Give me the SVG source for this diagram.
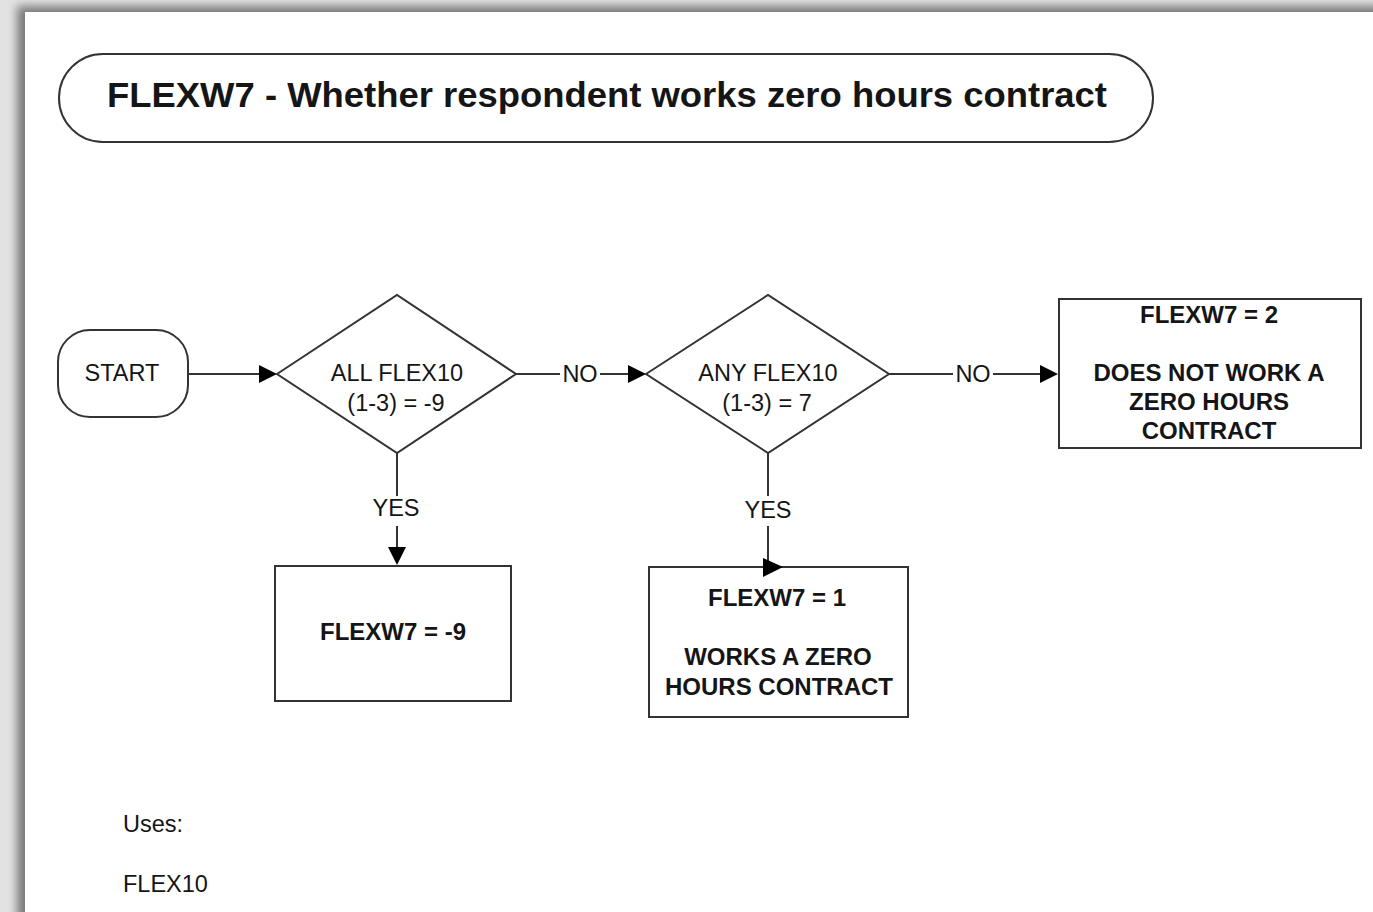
<svg xmlns="http://www.w3.org/2000/svg" width="1373" height="912" viewBox="0 0 1373 912">
<style>
.shape{fill:#fff;stroke:#333;stroke-width:2}
.ln{fill:none;stroke:#333;stroke-width:2}
.t{font-family:"Liberation Sans",Arial,sans-serif;font-size:23.5px;fill:#151515;text-anchor:middle}
.b{font-weight:bold;font-size:24px}
.lbl{font-family:"Liberation Sans",Arial,sans-serif;font-size:23.5px;fill:#151515}
.ah{fill:#000}
</style>
<defs>
<filter id="sh" x="-10%" y="-10%" width="120%" height="120%"><feGaussianBlur stdDeviation="5"/></filter>
</defs>
<rect x="0" y="0" width="1373" height="912" fill="#e2e2e2"/>
<rect x="17" y="6" width="1400" height="950" fill="#7a7a7a" filter="url(#sh)"/>
<rect x="25" y="12" width="1360" height="910" fill="#fff"/>

<g id="title">
<rect class="shape" x="59" y="54" width="1094" height="88" rx="44" ry="44"/>
<text class="t b" x="607" y="107" style="font-size:35.5px" textLength="1000" lengthAdjust="spacingAndGlyphs">FLEXW7 - Whether respondent works zero hours contract</text>
</g>

<g id="start">
<rect class="shape" x="58" y="330" width="130" height="87" rx="32" ry="32"/>
<text class="t" x="122" y="381">START</text>
</g>

<g id="decision1">
<polygon class="shape" points="277,374 397,295 516,374 397,453"/>
<text class="t" x="397" y="381">ALL FLEX10</text>
<text class="t" x="396" y="411">(1-3) = -9</text>
</g>

<g id="decision2">
<polygon class="shape" points="646,374 768,295 889,374 768,453"/>
<text class="t" x="768" y="381">ANY FLEX10</text>
<text class="t" x="767" y="411">(1-3) = 7</text>
</g>

<g id="result2">
<rect class="shape" x="1059" y="299" width="302" height="149"/>
<text class="t b" x="1209" y="323">FLEXW7 = 2</text>
<text class="t b" x="1209" y="381">DOES NOT WORK A</text>
<text class="t b" x="1209" y="410">ZERO HOURS</text>
<text class="t b" x="1209" y="439">CONTRACT</text>
</g>

<g id="result-9">
<rect class="shape" x="275" y="566" width="236" height="135"/>
<text class="t b" x="393" y="640">FLEXW7 = -9</text>
</g>

<g id="result1">
<rect class="shape" x="649" y="567" width="259" height="150"/>
<text class="t b" x="777" y="606">FLEXW7 = 1</text>
<text class="t b" x="778" y="665">WORKS A ZERO</text>
<text class="t b" x="779" y="695">HOURS CONTRACT</text>
</g>

<g id="notes">
<text class="lbl" x="123" y="832">Uses:</text>
<text class="lbl" x="123" y="892">FLEX10</text>
</g>

<g id="connectors">
<line class="ln" x1="188" y1="374" x2="262" y2="374"/>
<polygon class="ah" points="259,365 277,374 259,383"/>
<line class="ln" x1="516" y1="374" x2="560" y2="374"/>
<line class="ln" x1="600" y1="374" x2="630" y2="374"/>
<polygon class="ah" points="628,365 646,374 628,383"/>
<text class="t" x="580" y="382">NO</text>
<line class="ln" x1="889" y1="374" x2="953" y2="374"/>
<line class="ln" x1="993" y1="374" x2="1042" y2="374"/>
<polygon class="ah" points="1040,365 1058,374 1040,383"/>
<text class="t" x="973" y="382">NO</text>
<line class="ln" x1="397" y1="453" x2="397" y2="496"/>
<line class="ln" x1="397" y1="526" x2="397" y2="550"/>
<polygon class="ah" points="388,547 406,547 397,565"/>
<text class="t" x="396" y="516">YES</text>
<line class="ln" x1="768" y1="453" x2="768" y2="496"/>
<line class="ln" x1="768" y1="526" x2="768" y2="567"/>
<polygon class="ah" points="763,558 783,567 763,577"/>
<text class="t" x="768" y="518">YES</text>
</g>
</svg>
